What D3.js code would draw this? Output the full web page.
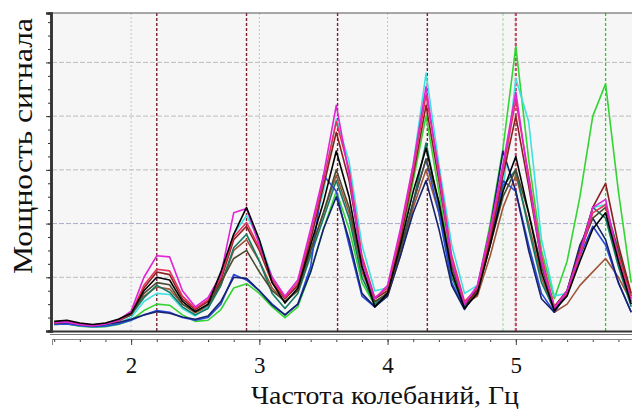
<!DOCTYPE html>
<html>
<head>
<meta charset="utf-8">
<script src="https://cdn.jsdelivr.net/npm/d3@7"></script>
<style>
  body { margin: 0; background: #fff; }
  svg { display: block; }
</style>
</head>
<body>
<svg id="chart" width="632" height="413"></svg>
<script>
// frequency grid, Hz
const freq = [1.4, 1.5, 1.6, 1.7, 1.8, 1.9, 2.0, 2.1, 2.2, 2.3, 2.4, 2.5, 2.6, 2.7, 2.8, 2.9,
  3.0, 3.1, 3.2, 3.3, 3.4, 3.5, 3.6, 3.7, 3.8, 3.9, 4.0, 4.1, 4.2, 4.3, 4.4, 4.5,
  4.6, 4.7, 4.8, 4.9, 5.0, 5.1, 5.2, 5.3, 5.4, 5.5, 5.6, 5.7, 5.8, 5.9];

// signal power, one list per record
const magenta = [0.16, 0.17, 0.12, 0.1, 0.13, 0.2, 0.37, 1.0, 1.4, 1.38, 0.75, 0.45, 0.62, 1.05, 2.2, 2.28,
  1.6, 1.0, 0.65, 0.95, 1.9, 2.9, 4.2, 2.9, 1.3, 0.6, 0.85, 1.9, 3.1, 4.55, 2.9, 1.3,
  0.5, 0.85, 1.9, 3.1, 4.45, 2.8, 1.3, 0.42, 0.75, 1.45, 2.3, 2.45, 1.3, 0.55];
const red = [0.15, 0.17, 0.12, 0.1, 0.13, 0.19, 0.33, 0.85, 1.15, 1.12, 0.65, 0.42, 0.58, 1.0, 1.75, 2.02,
  1.55, 0.95, 0.62, 0.9, 1.8, 2.8, 3.9, 3.0, 1.4, 0.62, 0.8, 1.8, 3.0, 4.4, 3.0, 1.4,
  0.55, 0.8, 1.8, 3.0, 4.3, 2.9, 1.4, 0.45, 0.7, 1.4, 2.2, 2.35, 1.4, 0.6];
const darkred = [0.16, 0.18, 0.13, 0.11, 0.14, 0.2, 0.32, 0.8, 1.1, 1.05, 0.6, 0.4, 0.55, 0.95, 1.7, 1.95,
  1.5, 0.9, 0.6, 0.85, 1.7, 2.7, 3.7, 2.8, 1.35, 0.6, 0.75, 1.7, 2.9, 4.2, 2.8, 1.3,
  0.5, 0.75, 1.7, 2.9, 4.0, 2.7, 1.3, 0.45, 0.75, 1.5, 2.3, 2.75, 1.6, 0.7];
const black = [0.18, 0.2, 0.15, 0.12, 0.15, 0.22, 0.33, 0.75, 1.0, 0.95, 0.55, 0.36, 0.5, 1.1, 1.8, 2.3,
  1.7, 0.9, 0.52, 0.8, 1.6, 2.4, 3.35, 2.5, 1.2, 0.45, 0.7, 1.6, 2.6, 3.4, 2.4, 1.1,
  0.42, 0.7, 1.6, 2.6, 3.25, 2.2, 1.1, 0.38, 0.65, 1.3, 1.9, 2.2, 1.3, 0.5];
const olive = [0.15, 0.17, 0.13, 0.11, 0.13, 0.2, 0.3, 0.7, 0.9, 0.86, 0.5, 0.36, 0.48, 0.9, 1.35, 1.5,
  1.1, 0.75, 0.55, 0.75, 1.5, 2.2, 3.0, 2.3, 1.2, 0.55, 0.7, 1.5, 2.4, 3.2, 2.4, 1.2,
  0.5, 0.7, 1.6, 2.5, 3.0, 2.2, 1.2, 0.45, 0.75, 1.5, 2.1, 2.3, 1.5, 0.65];
const cyan = [0.13, 0.14, 0.1, 0.08, 0.1, 0.15, 0.25, 0.55, 0.7, 0.68, 0.42, 0.28, 0.45, 0.95, 1.8, 2.15,
  1.7, 1.0, 0.6, 0.85, 1.7, 2.6, 3.95, 3.15, 1.6, 0.75, 0.8, 1.8, 3.1, 4.8, 3.1, 1.6,
  0.7, 0.85, 1.8, 2.6, 4.7, 3.9, 1.7, 0.65, 0.7, 1.4, 2.3, 2.35, 1.5, 0.6];
const teal = [0.14, 0.16, 0.12, 0.1, 0.13, 0.2, 0.3, 0.62, 0.85, 0.72, 0.45, 0.3, 0.42, 0.85, 1.55, 1.8,
  1.3, 0.7, 0.42, 0.7, 1.4, 2.1, 2.8, 2.1, 1.0, 0.5, 0.72, 1.5, 2.4, 3.5, 2.3, 1.0,
  0.45, 0.75, 1.7, 2.7, 3.0, 1.9, 0.9, 0.4, 0.7, 1.5, 2.3, 2.1, 1.2, 0.45];
const green = [0.12, 0.13, 0.09, 0.07, 0.08, 0.12, 0.2, 0.38, 0.5, 0.48, 0.3, 0.18, 0.2, 0.4, 0.8, 0.88,
  0.7, 0.45, 0.25, 0.45, 1.1, 1.9, 2.6, 1.9, 0.9, 0.48, 0.7, 1.6, 2.8, 4.0, 2.6, 1.1,
  0.5, 0.8, 2.0, 3.4, 5.3, 3.2, 1.5, 0.6, 1.3, 2.5, 4.0, 4.6, 2.6, 0.9];
const blue = [0.12, 0.13, 0.1, 0.08, 0.09, 0.13, 0.2, 0.3, 0.38, 0.35, 0.25, 0.2, 0.25, 0.5, 1.05, 0.95,
  0.75, 0.5, 0.3, 0.5, 1.2, 2.9, 2.6, 1.6, 0.65, 0.45, 0.7, 1.5, 2.4, 3.2, 2.2, 0.9,
  0.42, 0.75, 1.6, 2.8, 2.6, 1.6, 0.7, 0.35, 0.7, 1.4, 1.95, 1.6, 0.9, 0.35];
const navy = [0.14, 0.16, 0.12, 0.1, 0.12, 0.16, 0.22, 0.3, 0.36, 0.33, 0.26, 0.22, 0.28, 0.55, 1.0, 0.98,
  0.75, 0.48, 0.3, 0.5, 1.1, 1.9, 2.5, 1.7, 0.7, 0.45, 0.65, 1.4, 2.2, 2.8, 1.9, 0.85,
  0.4, 0.8, 1.9, 3.35, 2.6, 1.5, 0.6, 0.35, 0.75, 1.6, 2.1, 1.7, 0.9, 0.35];
const brown = [0.15, 0.17, 0.12, 0.1, 0.13, 0.18, 0.3, 0.65, 0.82, 0.78, 0.5, 0.34, 0.45, 0.85, 1.5, 1.7,
  1.3, 0.8, 0.55, 0.75, 1.5, 2.2, 2.9, 2.2, 1.1, 0.55, 0.65, 1.4, 2.3, 3.0, 2.2, 1.1,
  0.5, 0.65, 1.4, 2.3, 2.9, 2.0, 1.0, 0.35, 0.5, 0.85, 1.1, 1.35, 1.0, 0.55];

const series = [
  {v: brown, c: "#a0553a"}, {v: green, c: "#33d433"}, {v: cyan, c: "#3ee0e0"},
  {v: teal, c: "#137a62"}, {v: blue, c: "#2a48da"}, {v: navy, c: "#16226e"},
  {v: olive, c: "#4b4b30"}, {v: darkred, c: "#8a1f1f"}, {v: red, c: "#e8305a"},
  {v: magenta, c: "#e024d8"}, {v: black, c: "#000000"}
];

// vertical marker lines
const redMarks = [2.2, 2.9, 3.61, 4.31, 5.0];
const greenMarks = [4.9, 5.7];

const xMajor = [2, 3, 4, 5];
const yGrid = [1, 2, 3, 4, 5];

const serif = "'Liberation Serif', 'Times New Roman', 'DejaVu Serif', serif";

const svg = d3.select("#chart");
const L = 52, R = 632, T = 13, B = 331;

const x = d3.scaleLinear().domain([1.383, 5.906]).range([L, R]);
const y = d3.scaleLinear().domain([0, 5.92]).range([B, T]);

svg.append("defs").append("clipPath").attr("id", "clip")
  .append("rect").attr("x", L).attr("y", T).attr("width", R - L).attr("height", B - T + 1);

svg.append("rect")
  .attr("x", L).attr("y", T).attr("width", R - L).attr("height", B - T)
  .attr("fill", "#f6f6f6");

const g = svg.append("g").attr("clip-path", "url(#clip)");

g.selectAll("line.hgrid").data(yGrid).enter().append("line")
  .attr("class", "hgrid")
  .attr("x1", L).attr("x2", R)
  .attr("y1", d => y(d)).attr("y2", d => y(d))
  .attr("stroke", d => d == 2 ? "#a8acc8" : "#bdbdbd")
  .attr("stroke-width", 1)
  .attr("stroke-dasharray", "5,2");

g.selectAll("line.vgrid").data(xMajor).enter().append("line")
  .attr("class", "vgrid")
  .attr("x1", d => x(d)).attr("x2", d => x(d))
  .attr("y1", T).attr("y2", B)
  .attr("stroke", "#c4c4c4")
  .attr("stroke-dasharray", "2,2");

g.selectAll("line.gmark").data(greenMarks).enter().append("line")
  .attr("class", "gmark")
  .attr("x1", d => x(d)).attr("x2", d => x(d))
  .attr("y1", T).attr("y2", B)
  .attr("stroke", d => d < 5 ? "#9ad49a" : "#2ccc2c")
  .attr("stroke-width", d => d < 5 ? 1 : 1.3)
  .attr("stroke-dasharray", "3,2");

g.selectAll("line.rmark").data(redMarks).enter().append("line")
  .attr("class", "rmark")
  .attr("x1", d => x(d)).attr("x2", d => x(d))
  .attr("y1", T).attr("y2", B)
  .attr("stroke", d => d == 5 ? "#c0506a" : "#7a2030")
  .attr("stroke-width", d => d == 5 ? 2.2 : 1.4)
  .attr("stroke-dasharray", "3,2");

const line = d3.line().x((d, i) => x(freq[i])).y(d => y(d));

g.selectAll("path.sig").data(series).enter().append("path")
  .attr("class", "sig")
  .attr("d", d => line(d.v))
  .attr("fill", "none")
  .attr("stroke", d => d.c)
  .attr("stroke-width", 1.6)
  .attr("stroke-linejoin", "round");

// frame
svg.append("line").attr("x1", L).attr("x2", R).attr("y1", T).attr("y2", T)
  .attr("stroke", "#555").attr("stroke-width", 1.2);
svg.append("line").attr("x1", L - 2).attr("x2", R).attr("y1", B + 0.5).attr("y2", B + 0.5)
  .attr("stroke", "#333").attr("stroke-width", 2);
svg.append("line").attr("x1", L - 2).attr("x2", R).attr("y1", B + 3.5).attr("y2", B + 3.5)
  .attr("stroke", "#777").attr("stroke-width", 1);

// y axis
const yMinor = d3.axisLeft(y).tickValues(d3.range(0, 5.9, 0.25)).tickSize(3).tickFormat("");
const yAx = svg.append("g").attr("transform", `translate(${L - 1},0)`).call(yMinor);
yAx.append("g").call(d3.axisLeft(y).tickValues([0, 1, 2, 3, 4, 5]).tickSize(5).tickFormat(""));
yAx.selectAll(".domain").attr("stroke", "#333").attr("stroke-width", 2.5);
yAx.selectAll(".tick line").attr("stroke", "#333");

// x axis
const xAxisY = 339;
const xAx = svg.append("g").attr("transform", `translate(0,${xAxisY})`);
xAx.call(d3.axisBottom(x).tickValues(d3.range(1.4, 5.95, 0.2)).tickSize(3).tickFormat(""));
xAx.append("g").call(d3.axisBottom(x).tickValues(xMajor).tickSize(6).tickPadding(12).tickFormat(d3.format("d")));
xAx.selectAll(".domain").attr("stroke", "#888").attr("stroke-dasharray", "6,2");
xAx.selectAll(".tick line").attr("stroke", "#444");
xAx.attr("font-family", serif);
xAx.selectAll("g").attr("font-family", serif);
xAx.selectAll(".tick text").attr("font-family", serif).style("font-family", serif)
  .attr("font-size", 23).attr("fill", "#111");

svg.append("text")
  .style("font-family", serif)
  .attr("x", 385).attr("y", 404)
  .attr("text-anchor", "middle")
  .attr("font-size", 25)
  .attr("textLength", 268)
  .attr("lengthAdjust", "spacingAndGlyphs")
  .attr("fill", "#111")
  .text("Частота колебаний, Гц");

svg.append("text")
  .style("font-family", serif)
  .attr("transform", "translate(32,146) rotate(-90)")
  .attr("text-anchor", "middle")
  .attr("font-size", 28)
  .attr("textLength", 256)
  .attr("lengthAdjust", "spacingAndGlyphs")
  .attr("fill", "#111")
  .text("Мощность сигнала");
</script>
</body>
</html>
